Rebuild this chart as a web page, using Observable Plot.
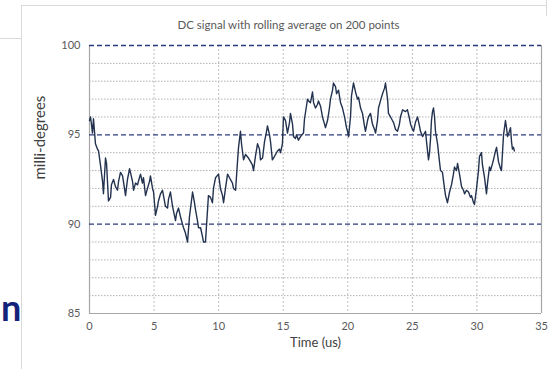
<!DOCTYPE html>
<html>
<head>
<meta charset="utf-8">
<script src="https://cdn.jsdelivr.net/npm/d3@7"></script>
<script src="https://cdn.jsdelivr.net/npm/@observablehq/plot@0.6"></script>
<style>
  html, body { margin: 0; padding: 0; background: #fff; }
  #wrap { position: relative; width: 558px; height: 369px; overflow: hidden; font-family: Lato, "Open Sans", sans-serif; }
  #wrap svg { position: absolute; left: 0; top: 0; }
  .deco { position: absolute; background: #d9d9d9; }
  #bigN { position: absolute; left: 1px; top: 289px; font: bold 36px Lato, sans-serif; color: #14237a; line-height: 1; }
</style>
</head>
<body>
<div id="wrap">
  <div class="deco" style="left:21px;top:5px;width:1px;height:364px;"></div>
  <div class="deco" style="left:21px;top:5px;width:525px;height:1px;"></div>
  <div class="deco" style="left:546px;top:0px;width:1px;height:16px;"></div>
  <div class="deco" style="left:0px;top:38px;width:21px;height:1px;"></div>
  <div id="bigN">n</div>
</div>
<script>
const chartTitle = "DC signal with rolling average on 200 points";
const xLabel = "Time (us)";
const yLabel = "milli-degrees";
const xTicks = [0, 5, 10, 15, 20, 25, 30, 35];
const yTicks = [85, 90, 95, 100];
const yMajorLines = [90, 95, 100];
const yMinorLines = [86, 87, 88, 89, 91, 92, 93, 94, 96, 97, 98, 99];
const xGridLines = [5, 10, 15, 20, 25, 30];

const timeUs = [
  0.00,0.08,0.15,0.23,0.31,0.46,0.62,0.70,0.85,1.01,1.08,1.24,1.32,1.47,1.63,1.70,1.86,2.01,2.17,2.25,
  2.40,2.56,2.71,2.79,2.94,3.10,3.17,3.33,3.41,3.56,3.72,3.79,3.95,4.10,4.18,4.34,4.49,4.65,4.72,4.88,
  4.96,5.11,5.27,5.34,5.50,5.65,5.73,5.88,6.04,6.12,6.27,6.43,6.66,6.74,6.89,7.05,7.20,7.28,7.43,7.59,
  7.74,7.98,8.13,8.21,8.36,8.44,8.60,8.75,8.83,8.98,9.14,9.21,9.37,9.52,9.60,9.76,9.99,10.14,10.30,10.38,
  10.53,10.69,10.84,11.07,11.15,11.31,11.46,11.54,11.69,11.77,11.93,12.08,12.31,12.47,12.62,12.70,12.85,13.01,13.16,13.24,
  13.40,13.55,13.71,13.78,13.94,14.02,14.16,14.33,14.56,14.71,14.79,14.94,15.02,15.18,15.33,15.49,15.56,15.72,15.80,15.95,
  16.03,16.18,16.34,16.57,16.65,16.80,16.88,16.96,17.11,17.27,17.35,17.50,17.65,17.73,17.89,18.04,18.20,18.27,18.43,18.58,
  18.66,18.82,18.89,19.05,19.13,19.28,19.44,19.59,19.75,19.90,19.98,20.06,20.21,20.29,20.44,20.60,20.75,20.83,20.99,21.14,
  21.29,21.37,21.53,21.60,21.76,21.91,22.07,22.15,22.30,22.38,22.53,22.69,22.84,22.92,23.08,23.15,23.31,23.46,23.54,23.70,
  23.85,24.00,24.08,24.24,24.47,24.62,24.78,24.86,25.01,25.09,25.24,25.40,25.55,25.63,25.79,25.86,26.02,26.10,26.25,26.33,
  26.41,26.48,26.56,26.64,26.72,26.79,26.95,27.10,27.18,27.33,27.49,27.57,27.72,27.88,28.03,28.18,28.26,28.42,28.50,28.65,
  28.81,28.96,29.04,29.19,29.35,29.50,29.58,29.74,29.81,29.97,30.12,30.20,30.35,30.43,30.59,30.74,30.82,30.97,31.05,31.21,
  31.28,31.44,31.52,31.67,31.83,31.90,31.98,32.06,32.21,32.29,32.37,32.52,32.60,32.68,32.75,32.83,32.90
];
const milliDeg = [
  95.8,96.0,95.6,95.1,95.9,94.5,94.2,94.1,93.3,92.4,91.7,93.7,93.4,91.3,91.5,92.2,92.5,92.1,91.9,92.4,
  92.9,92.7,92.0,91.6,92.5,93.1,92.9,92.4,91.9,92.3,92.2,92.4,92.8,92.3,92.6,91.6,92.0,92.4,92.7,92.0,
  91.8,90.5,91.0,91.3,91.7,91.9,91.6,91.0,90.9,91.4,91.8,91.0,90.2,90.6,90.9,90.4,90.0,89.8,89.5,89.0,
  90.4,91.8,91.2,90.8,90.2,89.8,89.8,89.3,89.0,89.0,90.8,91.6,91.5,91.2,92.0,92.6,92.8,92.0,91.6,91.2,
  92.0,92.8,92.6,92.3,92.0,91.9,93.5,94.3,95.2,94.5,93.6,93.9,93.7,93.5,93.3,93.0,93.8,94.5,94.2,93.6,
  93.7,94.6,95.2,95.5,95.0,94.6,93.6,93.8,94.1,94.2,94.0,94.5,96.0,95.8,95.1,95.7,96.2,95.6,94.9,94.8,
  95.0,94.7,94.9,95.1,95.9,96.6,97.0,96.9,96.8,97.4,96.8,96.5,96.7,96.9,96.6,96.0,95.6,95.4,95.8,96.5,
  97.0,97.5,97.9,97.7,97.3,97.5,96.8,96.5,96.0,95.4,95.2,94.9,96.0,97.2,97.9,97.4,97.0,97.1,96.5,96.2,
  95.5,95.2,95.8,96.0,96.2,95.6,95.3,95.1,95.8,96.5,96.9,97.3,97.6,97.9,97.0,96.2,96.0,95.8,95.7,95.3,
  95.2,95.6,96.0,96.4,96.3,96.4,95.9,95.6,95.3,95.2,95.7,96.0,95.5,95.2,94.9,95.0,95.2,94.6,93.6,94.0,
  94.8,95.8,96.3,96.5,96.0,95.2,94.5,93.5,93.0,92.9,92.0,91.6,91.2,91.8,92.2,92.8,93.2,93.0,93.4,92.8,
  92.1,91.9,91.7,91.9,91.8,91.5,91.6,91.2,91.1,92.0,93.0,93.8,94.0,93.3,92.6,91.7,92.3,93.2,93.0,93.4,
  93.6,94.1,94.3,93.5,93.1,93.0,94.0,95.0,95.8,95.4,94.9,95.2,95.4,94.6,94.2,94.3,94.1
];

const data = timeUs.map((t, i) => ({t, v: milliDeg[i]}));

const chart = Plot.plot({
  width: 558,
  height: 369,
  marginLeft: 89,
  marginRight: 17,
  marginTop: 45,
  marginBottom: 56,
  style: {fontFamily: "Lato, 'Open Sans', sans-serif", background: "transparent", overflow: "visible"},
  x: {domain: [0, 35]},
  y: {domain: [85, 100]},
  marks: [
    Plot.ruleY(yMinorLines, {stroke: "#a8a8a8", strokeWidth: 0.9, strokeDasharray: "1.5,1.5"}),
    Plot.ruleX(xGridLines, {stroke: "#b8b8b8", strokeWidth: 0.9, strokeDasharray: "2,2"}),
    Plot.ruleY([85], {stroke: "#a6a6a6", strokeWidth: 1.2}),
    Plot.ruleX([0, 35], {stroke: "#a6a6a6", strokeWidth: 1.2}),
    Plot.ruleY(yMajorLines, {stroke: "#2e3a78", strokeWidth: 1.4, strokeDasharray: "5,3"}),
    Plot.line(data, {x: "t", y: "v", stroke: "#22324f", strokeWidth: 1.4}),
    Plot.axisX({ticks: xTicks, tickSize: 0, tickPadding: 9, fontSize: 11, color: "#595959", label: null}),
    Plot.axisY({ticks: yTicks, tickSize: 0, tickPadding: 9, fontSize: 11, color: "#595959", label: null}),
    Plot.text([chartTitle], {frameAnchor: "top", dx: -27, dy: -25, fontSize: 11.5, fill: "#595959"}),
    Plot.text([xLabel], {frameAnchor: "bottom", dy: 33, fontSize: 13, fill: "#404040"}),
    Plot.text([yLabel], {frameAnchor: "left", dx: -49, rotate: -90, fontSize: 15, fill: "#404040"})
  ]
});
document.getElementById("wrap").prepend(chart);
</script>
</body>
</html>
